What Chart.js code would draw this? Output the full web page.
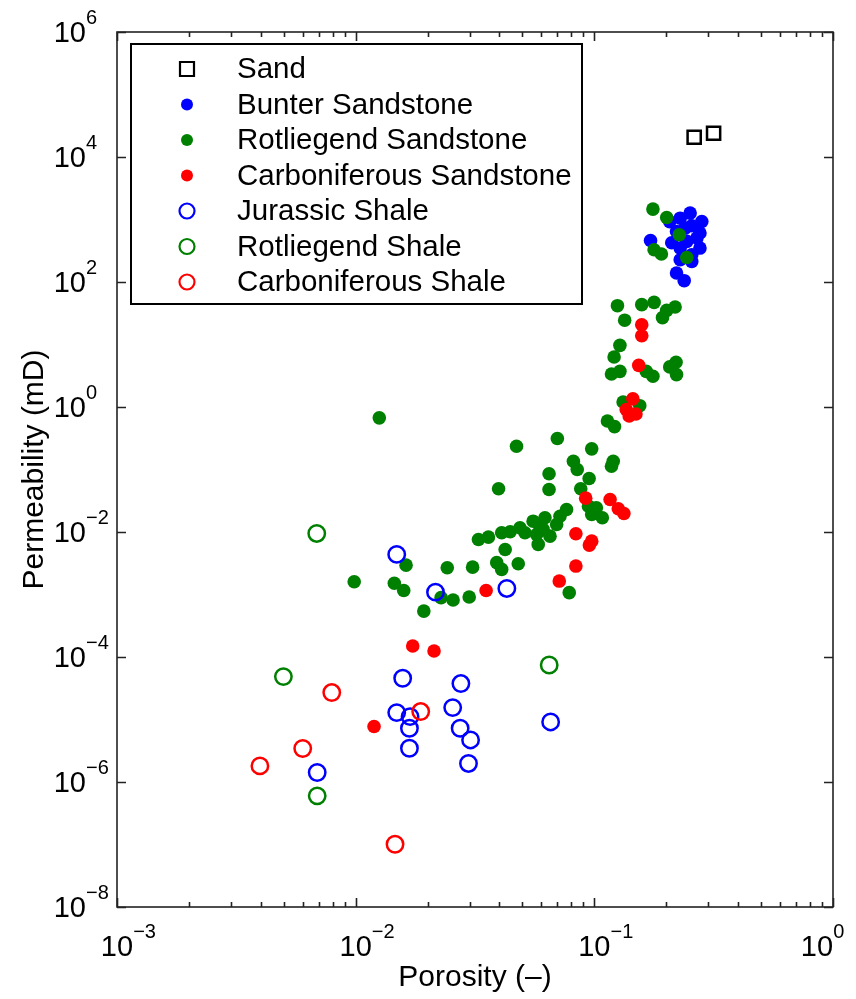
<!DOCTYPE html>
<html>
<head>
<meta charset="utf-8">
<script src="https://cdn.jsdelivr.net/npm/chart.js@4/dist/chart.umd.min.js"></script>
<style>
  html, body { margin: 0; padding: 0; background: #fff; }
  canvas { display: block; }
</style>
</head>
<body>
<canvas id="plot" width="856" height="999"></canvas>
<script>
// [porosity, permeability in mD]
const sand = [[0.262, 2.07e4], [0.316, 2.4e4]];

const bunterSandstone = [
  [0.252, 1265], [0.229, 1050], [0.282, 930], [0.221, 643], [0.277, 607],
  [0.172, 462], [0.244, 446], [0.277, 349], [0.229, 349], [0.256, 273],
  [0.229, 227], [0.256, 213], [0.221, 139], [0.238, 105], [0.240, 729],
  [0.269, 505], [0.207, 919], [0.256, 794], [0.211, 425]
];

const rotliegendSandstone = [
  [0.176, 1466], [0.201, 1076], [0.227, 570], [0.178, 328], [0.191, 280],
  [0.244, 247], [0.125, 41.8], [0.158, 43.4], [0.178, 47.2], [0.218, 39.8],
  [0.201, 35.2], [0.193, 26.9], [0.134, 24.5], [0.128, 9.69], [0.121, 6.32],
  [0.118, 3.38], [0.128, 3.72], [0.165, 3.72], [0.176, 3.10], [0.207, 4.38],
  [0.220, 5.19], [0.221, 3.30], [0.132, 1.20], [0.155, 1.05], [0.1135, 0.596],
  [0.1215, 0.486], [0.070, 0.313], [0.01256, 0.670], [0.0472, 0.236], [0.0975, 0.214],
  [0.0817, 0.1356], [0.0848, 0.100], [0.120, 0.1356], [0.118, 0.113], [0.0646, 0.0853],
  [0.0951, 0.0718], [0.0397, 0.0491], [0.0646, 0.0479], [0.0877, 0.0491], [0.0945, 0.0259],
  [0.102, 0.0244], [0.0975, 0.0191], [0.108, 0.0169], [0.0765, 0.0229], [0.0718, 0.0179],
  [0.0695, 0.0132], [0.0621, 0.0169], [0.0554, 0.0149], [0.0591, 0.0124], [0.0512, 0.00973],
  [0.0573, 0.00914], [0.0652, 0.00859], [0.0582, 0.00633], [0.0444, 0.0101], [0.0409, 0.00973],
  [0.0360, 0.00828], [0.0327, 0.0076], [0.0423, 0.00526], [0.0390, 0.00323], [0.0409, 0.00252],
  [0.048, 0.00311], [0.0309, 0.00274], [0.0242, 0.00268], [0.01626, 0.00295], [0.00986, 0.0016],
  [0.01452, 0.00151], [0.0159, 0.00116], [0.0228, 0.00089], [0.0256, 0.000815], [0.0299, 0.00091],
  [0.0193, 0.000543], [0.0785, 0.00107], [0.0488, 0.0117], [0.061, 0.011]
];

const carboniferousSandstone = [
  [0.158, 20.7], [0.158, 13.8], [0.1535, 4.64], [0.145, 1.35], [0.136, 0.91],
  [0.140, 0.721], [0.1494, 0.771], [0.092, 0.0348], [0.1164, 0.0331], [0.126, 0.0235],
  [0.133, 0.0198], [0.0837, 0.00938], [0.0975, 0.00714], [0.0953, 0.00617], [0.0837, 0.00285],
  [0.0713, 0.00164], [0.0352, 0.00116], [0.01734, 0.00015], [0.0213, 0.000125], [0.01194, 7.73e-6]
];

const jurassicShale = [
  [0.01486, 0.00438], [0.0216, 0.00109], [0.043, 0.00125], [0.01574, 4.57e-5], [0.0276, 3.76e-5],
  [0.01486, 1.29e-5], [0.0169, 1.11e-5], [0.0168, 7.25e-6], [0.0255, 1.55e-5], [0.0274, 7.25e-6],
  [0.0303, 4.71e-6], [0.0168, 3.47e-6], [0.0069, 1.42e-6], [0.0297, 1.98e-6], [0.0656, 9.14e-6]
];

const rotliegendShale = [
  [0.00687, 0.00948], [0.00498, 4.86e-5], [0.0069, 6.0e-7], [0.0647, 7.45e-5]
];

const carboniferousShale = [
  [0.00794, 2.70e-5], [0.01873, 1.34e-5], [0.006, 3.44e-6], [0.00397, 1.81e-6], [0.01462, 1.01e-7]
];

// axis ticks (value, exponent label)
const xTickValues = [1e-3, 1e-2, 1e-1, 1];
const xTickExps = ['\u22123', '\u22122', '\u22121', '0'];
const yTickValues = [1e-8, 1e-6, 1e-4, 1e-2, 1, 1e2, 1e4, 1e6];
const yTickExps = ['\u22128', '\u22126', '\u22124', '\u22122', '0', '2', '4', '6'];

const seriesNames = [
  'Sand', 'Bunter Sandstone', 'Rotliegend Sandstone', 'Carboniferous Sandstone',
  'Jurassic Shale', 'Rotliegend Shale', 'Carboniferous Shale'
];

const FONT = '"Liberation Sans", Arial, Helvetica, sans-serif';

function toPoints(arr) {
  return arr.map(p => ({ x: p[0], y: p[1] }));
}

function filled(color) {
  return { pointStyle: 'circle', pointRadius: 6.8, pointBackgroundColor: color,
           pointBorderColor: color, pointBorderWidth: 0 };
}
function hollow(color) {
  return { pointStyle: 'circle', pointRadius: 8.2, pointBackgroundColor: 'rgba(0,0,0,0)',
           pointBorderColor: color, pointBorderWidth: 2.5 };
}

const styles = [
  { pointStyle: 'rect', pointRadius: 9.3, pointBackgroundColor: 'rgba(0,0,0,0)',
    pointBorderColor: '#000', pointBorderWidth: 2.5 },
  filled('#0000ff'), filled('#008000'), filled('#ff0000'),
  hollow('#0000ff'), hollow('#008000'), hollow('#ff0000')
];
const allData = [sand, bunterSandstone, rotliegendSandstone, carboniferousSandstone,
                 jurassicShale, rotliegendShale, carboniferousShale];

// axes frame, ticks, labels and legend drawn by hand (MATLAB look)
const matlabAxes = {
  id: 'matlabAxes',
  afterDraw(chart) {
    const ctx = chart.ctx;
    const xs = chart.scales.x, ys = chart.scales.y;
    const a = chart.chartArea;
    ctx.save();

    ctx.strokeStyle = '#222';
    ctx.lineWidth = 1.6;
    ctx.strokeRect(a.left, a.top, a.right - a.left, a.bottom - a.top);

    // x ticks: majors + minors, inside, bottom & top
    ctx.beginPath();
    for (let d = -3; d <= 0; d++) {
      for (let m = 1; m <= 9; m++) {
        if (d === 0 && m > 1) break;
        const px = Math.round(xs.getPixelForValue(m * Math.pow(10, d))) + 0.5;
        const len = m === 1 ? 9 : 5;
        ctx.moveTo(px, a.bottom); ctx.lineTo(px, a.bottom - len);
        ctx.moveTo(px, a.top); ctx.lineTo(px, a.top + len);
      }
    }
    // y ticks
    yTickValues.forEach(v => {
      const py = Math.round(ys.getPixelForValue(v)) + 0.5;
      ctx.moveTo(a.left, py); ctx.lineTo(a.left + 9, py);
      ctx.moveTo(a.right, py); ctx.lineTo(a.right - 9, py);
    });
    ctx.stroke();

    ctx.fillStyle = '#000';
    // y tick labels
    yTickValues.forEach((v, i) => {
      const py = ys.getPixelForValue(v);
      ctx.font = '29px ' + FONT;
      ctx.textAlign = 'right';
      ctx.textBaseline = 'alphabetic';
      ctx.fillText('10', 86, py + 10);
      ctx.font = '20px ' + FONT;
      ctx.textAlign = 'left';
      ctx.fillText(yTickExps[i], 86, py - 8);
    });
    // x tick labels (last one pulled in so it stays on the page)
    xTickValues.forEach((v, i) => {
      let px = xs.getPixelForValue(v);
      if (i === xTickValues.length - 1) px -= 16;
      ctx.font = '29px ' + FONT;
      ctx.textAlign = 'center';
      ctx.fillText('10', px, 956);
      const w = ctx.measureText('10').width;
      ctx.font = '20px ' + FONT;
      ctx.textAlign = 'left';
      ctx.fillText(xTickExps[i], px + w / 2, 938);
    });

    // axis titles
    ctx.font = '30px ' + FONT;
    ctx.textAlign = 'center';
    ctx.fillText('Porosity (\u2013)', (a.left + a.right) / 2, 986);
    ctx.save();
    ctx.translate(43, (a.top + a.bottom) / 2);
    ctx.rotate(-Math.PI / 2);
    ctx.fillText('Permeability (mD)', 0, 0);
    ctx.restore();

    // legend
    const lx = 131, ly = 44, lw = 451, lh = 260;
    ctx.fillStyle = '#fff';
    ctx.fillRect(lx, ly, lw, lh);
    ctx.strokeStyle = '#000';
    ctx.lineWidth = 2;
    ctx.strokeRect(lx, ly, lw, lh);
    seriesNames.forEach((name, i) => {
      const cy = 69 + i * 35.5;
      const st = styles[i];
      ctx.beginPath();
      if (st.pointStyle === 'rect') {
        ctx.rect(187 - 7, cy - 7, 14, 14);
      } else {
        ctx.arc(187, cy, st.pointBorderWidth ? 7.5 : 6, 0, Math.PI * 2);
      }
      if (st.pointBorderWidth) {
        ctx.lineWidth = 2.2;
        ctx.strokeStyle = st.pointBorderColor;
        ctx.stroke();
      } else {
        ctx.fillStyle = st.pointBackgroundColor;
        ctx.fill();
      }
      ctx.fillStyle = '#000';
      ctx.font = '29.5px ' + FONT;
      ctx.textAlign = 'left';
      ctx.textBaseline = 'middle';
      ctx.fillText(name, 237, cy + 1);
    });
    ctx.restore();
  }
};

const datasets = allData.map((arr, i) => Object.assign({
  label: seriesNames[i],
  data: toPoints(arr),
  showLine: false,
  order: 7 - i
}, styles[i]));

new Chart(document.getElementById('plot').getContext('2d'), {
  type: 'scatter',
  data: { datasets: datasets },
  options: {
    responsive: false,
    animation: false,
    events: [],
    layout: { padding: { left: 117, right: 23, top: 32, bottom: 92 } },
    plugins: { legend: { display: false }, tooltip: { enabled: false } },
    scales: {
      x: { type: 'logarithmic', min: 1e-3, max: 1, display: false },
      y: { type: 'logarithmic', min: 1e-8, max: 1e6, display: false }
    }
  },
  plugins: [matlabAxes]
});
</script>
</body>
</html>
